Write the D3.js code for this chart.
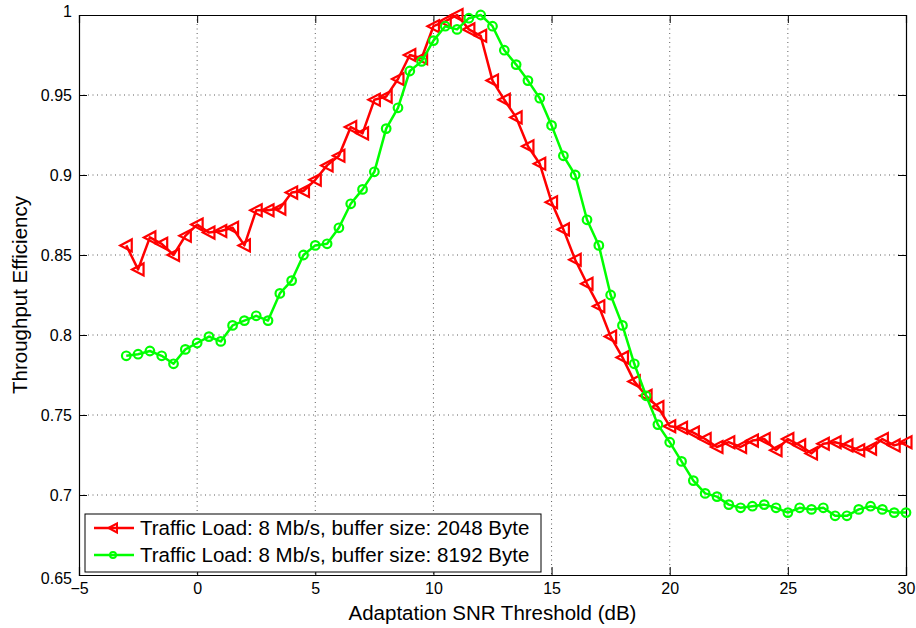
<!DOCTYPE html>
<html>
<head>
<meta charset="utf-8">
<script src="https://cdn.jsdelivr.net/npm/d3@7"></script>
<style>
  html, body { margin: 0; padding: 0; background: #fff; }
  text { font-family: "Liberation Sans", Arial, Helvetica, sans-serif; fill: #000; }
</style>
</head>
<body>
<svg id="chart" width="916" height="628"></svg>
<script>
const snr = [-3,-2.5,-2,-1.5,-1,-0.5,0,0.5,1,1.5,2,2.5,3,3.5,4,4.5,5,5.5,6,6.5,7,7.5,8,8.5,9,9.5,10,10.5,11,11.5,12,12.5,13,13.5,14,14.5,15,15.5,16,16.5,17,17.5,18,18.5,19,19.5,20,20.5,21,21.5,22,22.5,23,23.5,24,24.5,25,25.5,26,26.5,27,27.5,28,28.5,29,29.5,30];
const buf2048 = [0.856,0.841,0.861,0.857,0.850,0.862,0.869,0.864,0.865,0.867,0.856,0.878,0.878,0.879,0.889,0.890,0.897,0.906,0.912,0.930,0.926,0.947,0.949,0.960,0.975,0.973,0.993,0.996,1.000,0.991,0.987,0.959,0.947,0.936,0.918,0.907,0.883,0.866,0.847,0.832,0.818,0.799,0.786,0.771,0.762,0.755,0.743,0.742,0.739,0.735,0.730,0.733,0.730,0.734,0.735,0.728,0.735,0.731,0.726,0.732,0.733,0.731,0.728,0.729,0.735,0.731,0.733];
const buf8192 = [0.787,0.788,0.790,0.787,0.782,0.791,0.795,0.799,0.796,0.806,0.809,0.812,0.809,0.826,0.834,0.850,0.856,0.857,0.867,0.882,0.891,0.902,0.929,0.942,0.965,0.971,0.984,0.993,0.991,0.998,1.000,0.993,0.978,0.969,0.959,0.948,0.931,0.912,0.900,0.872,0.856,0.825,0.806,0.782,0.762,0.744,0.733,0.721,0.709,0.701,0.699,0.694,0.692,0.693,0.694,0.692,0.689,0.692,0.691,0.692,0.687,0.687,0.691,0.693,0.691,0.689,0.689];
const xTicks = [-5,0,5,10,15,20,25,30];
const yTicks = [0.65,0.7,0.75,0.8,0.85,0.9,0.95,1];
const seriesNames = ["Traffic Load: 8 Mb/s, buffer size: 2048 Byte","Traffic Load: 8 Mb/s, buffer size: 8192 Byte"];
const xTitle = "Adaptation SNR Threshold (dB)";
const yTitle = "Throughput Efficiency";

const svg = d3.select("#chart");
const L = 79, R = 906, T = 15, B = 575;
const x = d3.scaleLinear().domain([-5, 30]).range([L, R]);
const y = d3.scaleLinear().domain([0.65, 1]).range([B, T]);

// grid
const grid = svg.append("g");
xTicks.slice(1, -1).forEach(t => {
  grid.append("line").attr("x1", x(t)).attr("x2", x(t)).attr("y1", T).attr("y2", B)
    .attr("stroke", "#333").attr("stroke-width", 0.8).attr("stroke-dasharray", "1,3.5");
});
yTicks.slice(1, -1).forEach(t => {
  grid.append("line").attr("x1", L).attr("x2", R).attr("y1", y(t)).attr("y2", y(t))
    .attr("stroke", "#333").attr("stroke-width", 0.8).attr("stroke-dasharray", "1,3.5");
});

// axes
const fmtX = d => (d < 0 ? "\u2212" + Math.abs(d) : String(d));
const fmtY = d => String(+d.toFixed(2));
const axB = svg.append("g").attr("transform", `translate(0,${B})`)
  .call(d3.axisBottom(x).tickValues(xTicks).tickFormat(fmtX).tickSize(-8).tickPadding(5));
const axT = svg.append("g").attr("transform", `translate(0,${T})`)
  .call(d3.axisTop(x).tickValues(xTicks).tickFormat("").tickSize(-8));
const axL = svg.append("g").attr("transform", `translate(${L},0)`)
  .call(d3.axisLeft(y).tickValues(yTicks).tickFormat(fmtY).tickSize(-8).tickPadding(7));
const axR = svg.append("g").attr("transform", `translate(${R},0)`)
  .call(d3.axisRight(y).tickValues(yTicks).tickFormat("").tickSize(-8));
[axB, axT, axL, axR].forEach(a => {
  a.selectAll(".domain").attr("stroke", "#000").attr("stroke-width", 1.2);
  a.selectAll(".tick line").attr("stroke", "#000").attr("stroke-width", 1);
  a.selectAll("text").attr("font-size", 16).attr("fill", "#000")
    .style("font-family", '"Liberation Sans", Arial, sans-serif');
});
axB.selectAll("text").attr("dy", "0.85em");
axL.selectAll("text").attr("dy", "0.35em");
axL.selectAll(".tick").filter(d => d === 1).select("text").attr("dy", "0.1em");
axL.selectAll(".tick").filter(d => d === 0.65).select("text").attr("dy", "0.5em");

// titles
svg.append("text").attr("x", (L + R) / 2).attr("y", 620).attr("text-anchor", "middle")
  .attr("font-size", 20.5).text(xTitle);
svg.append("text").attr("transform", `translate(27,${(T + B) / 2}) rotate(-90)`)
  .attr("text-anchor", "middle").attr("font-size", 20.5).text(yTitle);

// lines
const line = d3.line().x((d, i) => x(snr[i])).y(d => y(d));
const triPath = "M-6,0L5.5,-6L5.5,6Z";

function drawSeries(vals, color, marker) {
  const g = svg.append("g");
  g.append("path").datum(vals).attr("d", line).attr("fill", "none")
    .attr("stroke", color).attr("stroke-width", 2.5).attr("stroke-linejoin", "round");
  const m = g.selectAll(".m").data(vals).enter();
  if (marker === "tri") {
    m.append("path").attr("d", triPath)
      .attr("transform", (d, i) => `translate(${x(snr[i])},${y(d)})`)
      .attr("fill", "none").attr("stroke", color).attr("stroke-width", 2.2);
  } else {
    m.append("circle").attr("cx", (d, i) => x(snr[i])).attr("cy", d => y(d)).attr("r", 4.3)
      .attr("fill", "none").attr("stroke", color).attr("stroke-width", 2.2);
  }
}
drawSeries(buf2048, "#ff0000", "tri");
drawSeries(buf8192, "#00ff00", "circ");

// legend
const lg = svg.append("g");
lg.append("rect").attr("x", 85).attr("y", 514).attr("width", 456).attr("height", 58)
  .attr("fill", "#fff").attr("stroke", "#000").attr("stroke-width", 1);
const rows = [{c: "#ff0000", m: "tri", yy: 528}, {c: "#00ff00", m: "circ", yy: 555}];
rows.forEach((r, i) => {
  lg.append("line").attr("x1", 94).attr("x2", 134).attr("y1", r.yy).attr("y2", r.yy)
    .attr("stroke", r.c).attr("stroke-width", 2.5);
  if (r.m === "tri") {
    lg.append("path").attr("d", "M-4.5,0L4,-4.5L4,4.5Z").attr("transform", `translate(113,${r.yy})`)
      .attr("fill", "none").attr("stroke", r.c).attr("stroke-width", 2);
  } else {
    lg.append("circle").attr("cx", 113).attr("cy", r.yy).attr("r", 3)
      .attr("fill", "none").attr("stroke", r.c).attr("stroke-width", 2);
  }
  lg.append("text").attr("x", 140).attr("y", r.yy).attr("dy", "0.36em")
    .attr("font-size", 20.5).text(seriesNames[i]);
});
</script>
</body>
</html>
